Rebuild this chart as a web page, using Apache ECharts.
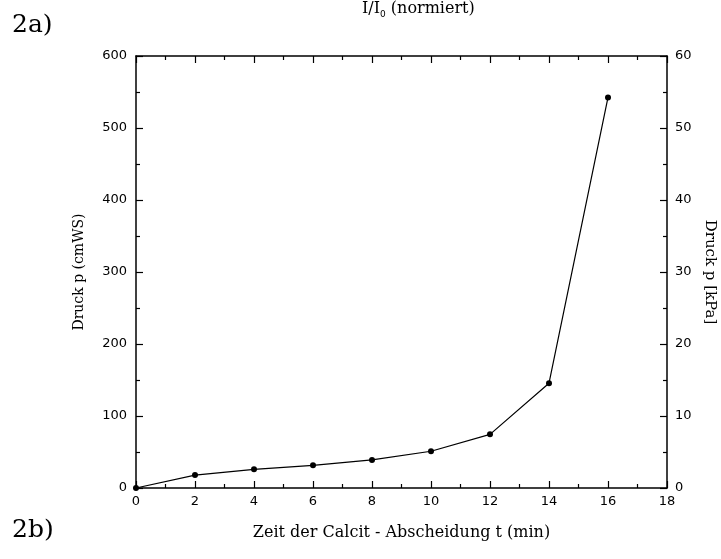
<!DOCTYPE html>
<html>
<head>
<meta charset="utf-8">
<script src="https://cdn.jsdelivr.net/npm/echarts@6/dist/echarts.min.js"></script>
<style>
  html, body { margin: 0; padding: 0; background: #fff; }
  #chart { width: 721px; height: 559px; }
</style>
</head>
<body>
<div id="chart"></div>
<script>
    // Zeit (min) und Druck (cmWS)
    var zeit = [0, 2, 4, 6, 8, 10, 12, 14, 16];
    var druck = [0, 18, 26, 31.5, 39, 51, 74.5, 145.5, 542.5];

    var serif = '"DejaVu Serif", "Liberation Serif", serif';
    var sans = '"DejaVu Sans", sans-serif';

    var points = zeit.map(function (t, i) { return [t, druck[i]]; });

    var axisLine = { show: true, onZero: false, lineStyle: { color: '#000', width: 1.5 } };
    var tick = { inside: true, length: 7, lineStyle: { color: '#000', width: 1.2 } };
    var minor = { show: true, splitNumber: 2, length: 4, lineStyle: { color: '#000', width: 1.2 } };

    var chart = echarts.init(document.getElementById('chart'));
    chart.setOption({
        animation: false,
        backgroundColor: '#fff',
        grid: { left: 136, right: 54, top: 56, bottom: 71, containLabel: false, outerBoundsMode: 'none' },
        graphic: [
            { type: 'text', left: 12, top: 13, style: { text: '2a)', font: '25px ' + serif, fill: '#000' } },
            { type: 'text', left: 12, top: 518, style: { text: '2b)', font: '25px ' + serif, fill: '#000' } },
            {
                type: 'text', left: 362, top: 1,
                style: {
                    text: '{a|I/I}{s|0}{a| (normiert)}',
                    rich: {
                        a: { font: '16px ' + serif, fill: '#000' },
                        s: { font: '9px ' + sans, fill: '#000', padding: [11, 0, 0, 0] }
                    }
                }
            }
        ],
        xAxis: [{
            type: 'value', min: 0, max: 18, interval: 2, position: 'bottom',
            name: 'Zeit der Calcit - Abscheidung t (min)', nameLocation: 'middle', nameGap: 37,
            nameTextStyle: { fontFamily: serif, fontSize: 16, color: '#000' },
            axisLine: axisLine, axisTick: tick, minorTick: minor,
            axisLabel: { fontFamily: sans, fontSize: 13, color: '#000', margin: 7 },
            splitLine: { show: false }
        }, {
            type: 'value', min: 0, max: 18, interval: 2, position: 'top',
            axisLine: axisLine, axisTick: tick, minorTick: minor,
            axisLabel: { show: false },
            splitLine: { show: false }
        }],
        yAxis: [{
            type: 'value', min: 0, max: 600, interval: 100, position: 'left',
            name: 'Druck p (cmWS)', nameLocation: 'middle', nameGap: 50, nameRotate: 90,
            nameTextStyle: { fontFamily: serif, fontSize: 14, color: '#000' },
            axisLine: axisLine, axisTick: tick, minorTick: minor,
            axisLabel: { fontFamily: sans, fontSize: 13, color: '#000', margin: 9 },
            splitLine: { show: false }
        }, {
            type: 'value', min: 0, max: 60, interval: 10, position: 'right',
            name: 'Druck p [kPa]', nameLocation: 'middle', nameGap: 34, nameRotate: -90,
            nameTextStyle: { fontFamily: serif, fontSize: 15, color: '#000' },
            axisLine: axisLine, axisTick: tick, minorTick: minor,
            axisLabel: { fontFamily: sans, fontSize: 13, color: '#000', margin: 8 },
            splitLine: { show: false }
        }],
        series: [{
            type: 'line',
            xAxisIndex: 0,
            yAxisIndex: 0,
            data: points,
            symbol: 'circle',
            symbolSize: 6,
            showSymbol: true,
            itemStyle: { color: '#000' },
            lineStyle: { color: '#000', width: 1.2 },
            emphasis: { disabled: true }
        }]
    });
</script>
</body>
</html>
